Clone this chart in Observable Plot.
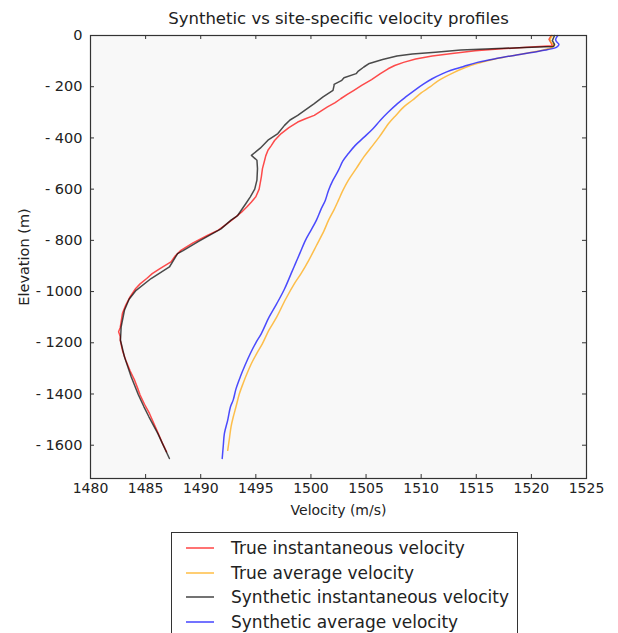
<!DOCTYPE html>
<html>
<head>
<meta charset="utf-8">
<script src="https://cdn.jsdelivr.net/npm/d3@7"></script>
<script src="https://cdn.jsdelivr.net/npm/@observablehq/plot@0.6"></script>
<style>
  html, body { margin: 0; padding: 0; background: #fff; overflow: hidden; }
  #wrap { position: relative; width: 618px; height: 633px; font-family: "DejaVu Sans", sans-serif; }
  #chart { position: absolute; left: 0; top: 0; }
  #legend { position: absolute; left: 171px; top: 532px; width: 347px; height: 120px;
            border: 1px solid #333; box-sizing: border-box; background: #fff; }
  .row { position: absolute; left: 0; width: 100%; height: 20px; }
  .row .sw { position: absolute; left: 14px; top: 9px; width: 28px; height: 0; border-top: 2px solid; }
  .row .lab { position: absolute; left: 59px; top: 0; line-height: 20px; font-size: 17px; color: #222; white-space: nowrap; }
</style>
</head>
<body>
<div id="wrap">
  <div id="chart"></div>
  <div id="legend"></div>
</div>
<script>
// Velocity profiles: [elevation (m), velocity (m/s)]
const trueInstantaneous = [
  [0, 1521.8], [-15, 1521.6], [-30, 1521.8], [-40, 1521.9], [-46, 1519.6], [-53, 1517.0],
  [-60, 1514.9], [-70, 1512.8], [-80, 1511.0], [-92, 1509.5], [-105, 1508.4], [-117, 1507.6],
  [-130, 1507.0], [-149, 1506.3], [-172, 1505.5], [-195, 1504.6], [-214, 1503.9], [-230, 1503.3],
  [-247, 1502.7], [-262, 1502.2], [-279, 1501.5], [-295, 1500.9], [-312, 1500.3], [-325, 1499.5],
  [-338, 1498.8], [-360, 1498.0], [-383, 1497.3], [-410, 1496.7], [-430, 1496.4], [-448, 1496.1],
  [-470, 1495.9], [-487, 1495.8], [-520, 1495.6], [-552, 1495.5], [-600, 1495.3], [-630, 1495.0],
  [-650, 1494.6], [-669, 1494.2], [-690, 1493.7], [-708, 1493.2], [-735, 1492.4], [-760, 1491.6],
  [-781, 1490.6], [-810, 1489.3], [-839, 1488.2], [-860, 1487.7], [-884, 1487.3], [-910, 1486.3],
  [-930, 1485.6], [-949, 1485.1], [-970, 1484.5], [-988, 1484.1], [-1020, 1483.6], [-1053, 1483.2],
  [-1085, 1482.9], [-1112, 1482.8], [-1140, 1482.7], [-1157, 1482.55], [-1175, 1482.7], [-1190, 1482.7],
  [-1230, 1482.9], [-1268, 1483.2], [-1310, 1483.6], [-1346, 1484.0], [-1380, 1484.3], [-1404, 1484.5],
  [-1440, 1484.9], [-1476, 1485.35], [-1515, 1485.75], [-1554, 1486.15], [-1590, 1486.5], [-1626, 1486.9]
];
const trueAverage = [
  [0, 1521.9], [-16, 1521.7], [-28, 1521.8], [-38, 1522.1], [-48, 1521.8], [-58, 1521.0],
  [-71, 1519.3], [-85, 1517.5], [-100, 1515.9], [-120, 1514.3], [-146, 1512.9], [-178, 1511.5],
  [-201, 1510.8], [-224, 1510.0], [-253, 1509.2], [-276, 1508.5], [-312, 1507.7], [-341, 1507.1],
  [-396, 1506.2], [-435, 1505.5], [-474, 1504.8], [-520, 1504.1], [-565, 1503.4], [-605, 1502.9],
  [-643, 1502.5], [-680, 1502.1], [-721, 1501.6], [-761, 1501.2], [-820, 1500.5], [-878, 1499.8],
  [-930, 1499.1], [-969, 1498.5], [-1030, 1497.7], [-1099, 1496.9], [-1150, 1496.2], [-1203, 1495.6],
  [-1240, 1495.1], [-1281, 1494.6], [-1320, 1494.2], [-1358, 1493.85], [-1400, 1493.5], [-1450, 1493.2],
  [-1490, 1492.95], [-1528, 1492.75], [-1575, 1492.6], [-1620, 1492.45]
];
const syntheticInstantaneous = [
  [0, 1522.1], [-20, 1521.9], [-35, 1522.1], [-43, 1522.0], [-47, 1519.4], [-52, 1516.4],
  [-57, 1513.6], [-65, 1511.3], [-72, 1509.2], [-80, 1507.8], [-94, 1506.5], [-109, 1505.3],
  [-123, 1504.8], [-139, 1504.3], [-149, 1504.1], [-165, 1503.0], [-175, 1502.8], [-191, 1502.1],
  [-195, 1502.1], [-214, 1502.0], [-240, 1501.1], [-266, 1500.3], [-290, 1499.5], [-312, 1498.8],
  [-330, 1498.1], [-351, 1497.6], [-383, 1497.0], [-409, 1496.1], [-440, 1495.4], [-468, 1494.6],
  [-487, 1495.1], [-520, 1495.15], [-565, 1495.1], [-600, 1494.9], [-630, 1494.5], [-656, 1494.1],
  [-703, 1493.35], [-721, 1492.75], [-755, 1491.84], [-806, 1489.73], [-840, 1488.4], [-852, 1487.9],
  [-904, 1487.16], [-949, 1485.5], [-995, 1484.14], [-1030, 1483.5], [-1073, 1483.08], [-1138, 1482.78],
  [-1190, 1482.72], [-1255, 1483.08], [-1333, 1483.69], [-1404, 1484.35], [-1450, 1484.85], [-1489, 1485.3],
  [-1554, 1486.1], [-1652, 1487.16]
];
const syntheticAverage = [
  [0, 1522.4], [-15, 1522.2], [-25, 1522.3], [-35, 1522.5], [-45, 1522.3], [-55, 1521.5],
  [-65, 1520.2], [-75, 1518.8], [-90, 1516.8], [-105, 1515.1], [-120, 1513.9], [-136, 1512.7],
  [-150, 1511.9], [-169, 1511.0], [-190, 1510.2], [-214, 1509.4], [-240, 1508.6], [-266, 1507.85],
  [-300, 1507.0], [-331, 1506.3], [-365, 1505.6], [-396, 1504.85], [-430, 1504.0], [-461, 1503.4],
  [-490, 1502.9], [-526, 1502.5], [-565, 1502.0], [-604, 1501.6], [-644, 1501.3], [-680, 1500.9],
  [-721, 1500.5], [-761, 1500.0], [-800, 1499.5], [-850, 1499.0], [-890, 1498.6], [-930, 1498.2],
  [-990, 1497.6], [-1047, 1496.9], [-1100, 1496.2], [-1164, 1495.5], [-1200, 1495.0], [-1242, 1494.5],
  [-1290, 1494.0], [-1332, 1493.6], [-1380, 1493.2], [-1423, 1492.95], [-1450, 1492.7], [-1502, 1492.45],
  [-1554, 1492.15], [-1600, 1492.05], [-1652, 1491.95]
];

const seriesNames = ["True instantaneous velocity", "True average velocity",
                     "Synthetic instantaneous velocity", "Synthetic average velocity"];
const seriesColors = ["#ff0000", "#ffa500", "#000000", "#0000ff"];
const seriesCurves = ["linear", "catmull-rom", "linear", "catmull-rom"];
const seriesData = [trueInstantaneous, trueAverage, syntheticInstantaneous, syntheticAverage];

const xTicks = [1480, 1485, 1490, 1495, 1500, 1505, 1510, 1515, 1520, 1525];
const yTicks = [0, -200, -400, -600, -800, -1000, -1200, -1400, -1600];
const title = "Synthetic vs site-specific velocity profiles";

const W = 618, H = 525;
const M = {top: 35, right: 32, bottom: 47, left: 90};
const frameW = W - M.left - M.right, frameH = H - M.top - M.bottom;
const tick = 4;

const chart = Plot.plot({
  width: W, height: H,
  marginTop: M.top, marginRight: M.right, marginBottom: M.bottom, marginLeft: M.left,
  style: {fontFamily: "DejaVu Sans, sans-serif", fontSize: "14px", color: "#222", background: "transparent"},
  x: {domain: [1480, 1525]},
  y: {domain: [-1730, 0]},
  marks: [
    Plot.frame({fill: "#f8f8f8", stroke: null}),
    ...seriesData.map((pts, i) => Plot.line(pts, {
      x: d => d[1], y: d => d[0], stroke: seriesColors[i], strokeOpacity: 0.7,
      strokeWidth: 1.5, curve: seriesCurves[i]
    })),
    // inward tick marks on all four sides
    Plot.tickX(xTicks, {x: d => d, insetTop: frameH - tick, stroke: "#333"}),
    Plot.tickX(xTicks, {x: d => d, insetBottom: frameH - tick, stroke: "#333"}),
    Plot.tickY(yTicks, {y: d => d, insetRight: frameW - tick, stroke: "#333"}),
    Plot.tickY(yTicks, {y: d => d, insetLeft: frameW - tick, stroke: "#333"}),
    Plot.axisX({anchor: "bottom", ticks: xTicks, tickSize: 0, tickPadding: 5,
      tickFormat: d => String(d), label: "Velocity (m/s)", labelAnchor: "center",
      labelOffset: 36, labelArrow: "none", fontSize: 14}),
    Plot.axisY({anchor: "left", ticks: yTicks, tickSize: 0, tickPadding: 8,
      tickFormat: d => d === 0 ? "0" : "- " + Math.abs(d), label: "Elevation (m)",
      labelAnchor: "center", labelOffset: 72, labelArrow: "none", fontSize: 14.5}),
    Plot.frame({stroke: "#333", strokeWidth: 1.2}),
    Plot.text([title], {text: d => d, frameAnchor: "top", dy: -17, fontSize: 16.5, lineAnchor: "middle", fill: "#222"})
  ]
});
document.getElementById("chart").appendChild(chart);

// legend below the chart
const legend = document.getElementById("legend");
const rowTops = [5, 30, 54, 79];
seriesNames.forEach((name, i) => {
  const row = document.createElement("div");
  row.className = "row";
  row.style.top = rowTops[i] + "px";
  const sw = document.createElement("div");
  sw.className = "sw";
  sw.style.borderTopColor = seriesColors[i];
  sw.style.opacity = 0.55;
  const lab = document.createElement("div");
  lab.className = "lab";
  lab.textContent = name;
  row.appendChild(sw);
  row.appendChild(lab);
  legend.appendChild(row);
});
</script>
</body>
</html>
